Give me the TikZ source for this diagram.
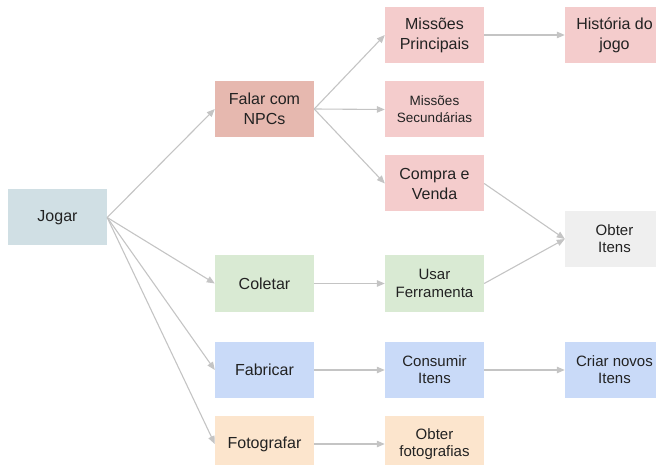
\documentclass[tikz,border=0pt]{standalone}
\usepackage{fontspec}
\setmainfont{Liberation Sans}
\usetikzlibrary{arrows.meta}
\definecolor{cjogar}{HTML}{D0DFE4}
\definecolor{cfalar}{HTML}{E6B8AF}
\definecolor{cpink}{HTML}{F4CCCC}
\definecolor{cgray}{HTML}{EFEFEF}
\definecolor{cgreen}{HTML}{D9EAD3}
\definecolor{cblue}{HTML}{C9DAF8}
\definecolor{corange}{HTML}{FCE5CD}
\definecolor{cedge}{HTML}{C4C4C4}
\definecolor{ctext}{HTML}{222222}
\begin{document}
\begin{tikzpicture}[x=1pt,y=-1pt,
  box/.style={rectangle, minimum width=99pt, minimum height=56pt, inner sep=0pt,
    align=center, text=ctext, font=\fontsize{16}{20}\selectfont},
  midtext/.style={font=\fontsize{15}{18}\selectfont},
  medtext/.style={font=\fontsize{15}{17}\selectfont},
  smalltext/.style={font=\fontsize{13.5}{17}\selectfont},
  conn/.style={draw=cedge, line width=1.1pt, -{Triangle[length=8pt,width=6.5pt]}}]
\useasboundingbox (0,0) rectangle (656,465);
\clip (0,0) rectangle (656,465);
\node[box, fill=cjogar] (jogar) at (57.5,217.5) {Jogar};
\node[box, fill=cfalar] (falar) at (264.5,109) {Falar com\\NPCs};
\node[box, fill=cpink] (mp) at (434.5,35) {Missões\\Principais};
\node[box, fill=cpink] (hist) at (614.5,35) {História do\\jogo};
\node[box, fill=cpink, smalltext] (ms) at (434.5,109.5) {Missões\\Secundárias};
\node[box, fill=cpink] (cv) at (434.5,183.5) {Compra e\\Venda};
\node[box, fill=cgray, medtext] (oi) at (614.5,239) {Obter\\Itens};
\node[box, fill=cgreen] (col) at (264.5,283.5) {Coletar};
\node[box, fill=cgreen, midtext] (usar) at (434.5,283.5) {Usar\\Ferramenta};
\node[box, fill=cblue] (fab) at (264.5,370) {Fabricar};
\node[box, fill=cblue, medtext] (cons) at (434.5,370) {Consumir\\Itens};
\node[box, fill=cblue, medtext] (criar) at (614.5,370) {Criar novos\\Itens};
\node[box, fill=corange] (foto) at (264.5,444) {Fotografar};
\node[box, fill=corange, medtext] (ofoto) at (434.5,444) {Obter\\fotografias};
\draw[conn] (jogar.east) -- (falar.west);
\draw[conn] (jogar.east) -- (col.west);
\draw[conn] (jogar.east) -- (fab.west);
\draw[conn] (jogar.east) -- (foto.west);
\draw[conn] (falar.east) -- (mp.west);
\draw[conn] (falar.east) -- (ms.west);
\draw[conn] (falar.east) -- (cv.west);
\draw[conn] (mp.east) -- (hist.west);
\draw[conn] (cv.east) -- (oi.west);
\draw[conn] (usar.east) -- (oi.west);
\draw[conn] (col.east) -- (usar.west);
\draw[conn] (fab.east) -- (cons.west);
\draw[conn] (cons.east) -- (criar.west);
\draw[conn] (foto.east) -- (ofoto.west);
\end{tikzpicture}
\end{document}
